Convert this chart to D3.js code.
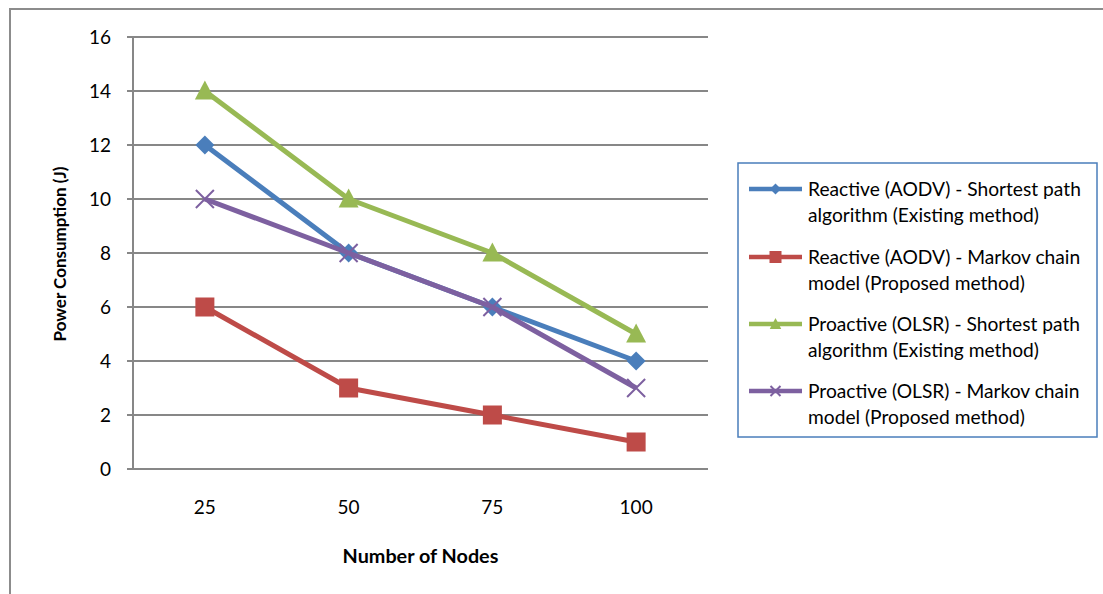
<!DOCTYPE html>
<html><head><meta charset="utf-8">
<script src="https://cdn.jsdelivr.net/npm/d3@7"></script>
<style>
html,body{margin:0;padding:0;background:#fff;}
svg{display:block;}
text{font-family:Lato,"Open Sans",sans-serif;fill:#000;}
</style></head>
<body><svg id="chart" width="1103" height="594"></svg>
<script>
const categories = ["25","50","75","100"];
const seriesNames = [
  ["Reactive (AODV) - Shortest path","algorithm (Existing method)"],
  ["Reactive (AODV) - Markov chain","model (Proposed method)"],
  ["Proactive (OLSR) - Shortest path","algorithm (Existing method)"],
  ["Proactive (OLSR) - Markov chain","model (Proposed method)"]
];
const reactiveShortest = [12, 8, 6, 4];
const reactiveMarkov = [6, 3, 2, 1];
const proactiveShortest = [14, 10, 8, 5];
const proactiveMarkov = [10, 8, 6, 3];
const yTicks = [0,2,4,6,8,10,12,14,16];
const colors = ["#4A7EBB","#BE4B48","#98B954","#7D60A0"];
const markers = ["diamond","square","triangle","x"];
const seriesValues = [reactiveShortest, reactiveMarkov, proactiveShortest, proactiveMarkov];

(function(){
const svg = d3.select("#chart");
svg.append("path").attr("d","M10,594 L10,9 L1103,9").attr("fill","none").attr("stroke","#8c8c8c").attr("stroke-width",2);

const pL=133, pR=708, pT=37, pB=469;
const x = d3.scaleBand().domain(categories).range([pL,pR]);
const y = d3.scaleLinear().domain([0,16]).range([pB,pT]);

svg.append("g").selectAll("line").data(yTicks).join("line")
  .attr("x1",pL-6).attr("x2",pR).attr("y1",d=>y(d)).attr("y2",d=>y(d))
  .attr("stroke","#878787").attr("stroke-width",2);
svg.append("line").attr("x1",pL).attr("x2",pL).attr("y1",pT).attr("y2",pB).attr("stroke","#878787").attr("stroke-width",2);

svg.append("g").selectAll("text").data(yTicks).join("text")
  .attr("x",111).attr("y",d=>y(d)).attr("dy","0.36em").attr("text-anchor","end")
  .attr("font-size",19).text(d=>d);
svg.append("g").selectAll("text").data(categories).join("text")
  .attr("x",d=>x(d)+x.bandwidth()/2).attr("y",507).attr("dy","0.36em").attr("text-anchor","middle")
  .attr("font-size",19).text(d=>d);
svg.append("text").attr("x",420.5).attr("y",556).attr("dy","0.36em").attr("text-anchor","middle")
  .attr("font-size",19.8).attr("font-weight","bold").text("Number of Nodes");
svg.append("text").attr("transform","translate(60,254) rotate(-90)").attr("dy","0.36em").attr("text-anchor","middle")
  .attr("font-size",17).attr("font-weight","bold").text("Power Consumption (J)");

function drawMarker(g, type, color, cx, cy, s){
  if(type==="diamond"){
    g.append("path").attr("d",d3.symbol(d3.symbolSquare, s*s/2)()).attr("transform",`translate(${cx},${cy}) rotate(45)`).attr("fill",color);
  } else if(type==="square"){
    g.append("rect").attr("x",cx-s/2).attr("y",cy-s/2).attr("width",s).attr("height",s).attr("fill",color);
  } else if(type==="triangle"){
    const w=s*1.05, h=s;
    g.append("path").attr("d",`M${cx},${cy-h*0.55} L${cx+w/2},${cy+h*0.45} L${cx-w/2},${cy+h*0.45} Z`).attr("fill",color);
  } else {
    const r=s/2;
    g.append("path").attr("d",`M${cx-r},${cy-r} L${cx+r},${cy+r} M${cx-r},${cy+r} L${cx+r},${cy-r}`).attr("stroke",color).attr("stroke-width",2).attr("fill","none");
  }
}

const line = d3.line().x((d,i)=>x(categories[i])+x.bandwidth()/2).y(d=>y(d));
const sizes = {diamond:19, square:19, triangle:19, x:18};
seriesValues.forEach((vals,si)=>{
  const g = svg.append("g");
  g.append("path").attr("d",line(vals)).attr("fill","none").attr("stroke",colors[si]).attr("stroke-width",5).attr("stroke-linejoin","round");
  vals.forEach((v,i)=>drawMarker(g, markers[si], colors[si], x(categories[i])+x.bandwidth()/2, y(v), sizes[markers[si]]));
});

const lg = svg.append("g");
lg.append("rect").attr("x",738).attr("y",163).attr("width",359).attr("height",274)
  .attr("fill","#fff").attr("stroke","#4A7EBB").attr("stroke-width",1.5);
const legendY = [189, 257, 324, 391];
seriesNames.forEach((lines,si)=>{
  const ly = legendY[si];
  lg.append("line").attr("x1",749).attr("x2",802).attr("y1",ly).attr("y2",ly).attr("stroke",colors[si]).attr("stroke-width",4.5);
  const ms = {diamond:11, square:12, triangle:11, x:10}[markers[si]];
  drawMarker(lg, markers[si], colors[si], 775.5, ly, ms);
  lines.forEach((t,li)=>{
    lg.append("text").attr("x",808).attr("y",ly+li*26.5).attr("dy","0.36em").attr("font-size",19.2).text(t);
  });
});
})();
</script></body></html>
